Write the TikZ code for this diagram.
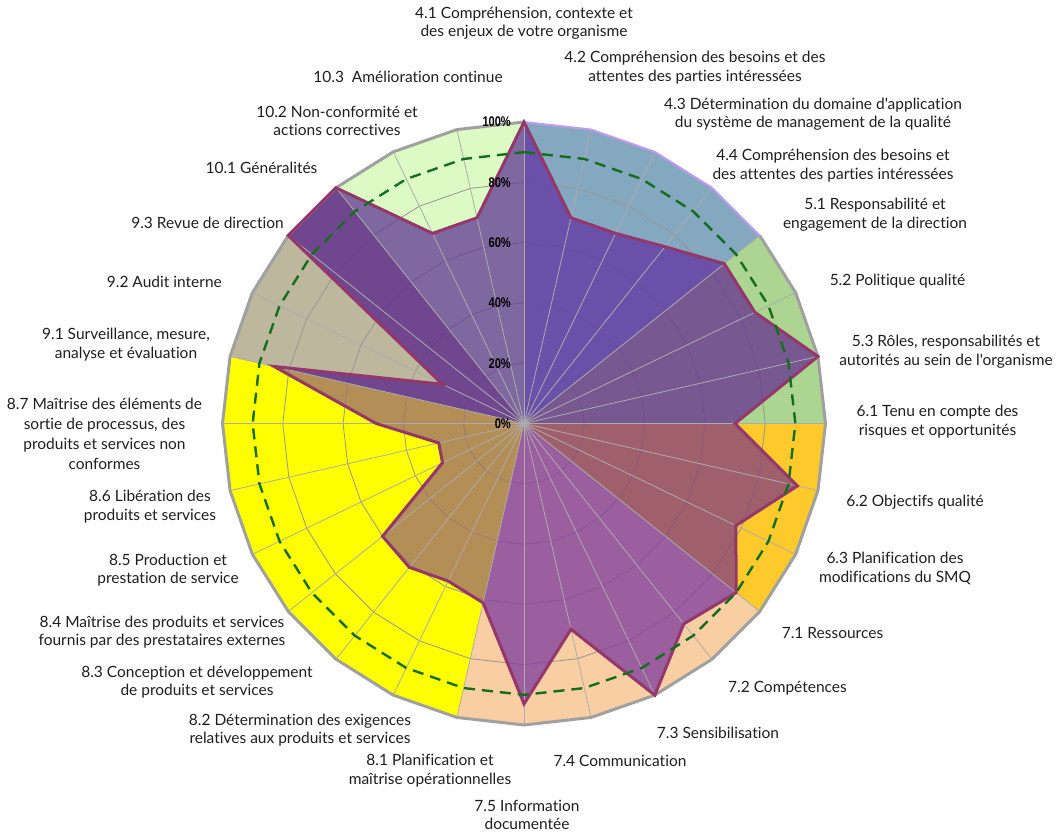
\documentclass[tikz,border=0pt]{standalone}
\usepackage{fontspec}
\setmainfont{Lato}[Ligatures={TeXOff,NoCommon}]
\newfontfamily\pctfont[FakeStretch=0.79]{Liberation Sans}
\definecolor{txt}{RGB}{30,30,30}
\definecolor{bgblue}{RGB}{132,168,192}
\definecolor{bggreen}{RGB}{171,213,144}
\definecolor{bggold}{RGB}{254,201,42}
\definecolor{bgpeach}{RGB}{249,206,162}
\definecolor{bgyellow}{RGB}{255,255,0}
\definecolor{bgtan}{RGB}{188,183,157}
\definecolor{bglgreen}{RGB}{220,251,196}
\definecolor{dfour}{RGB}{100,58,162}
\definecolor{dfive}{RGB}{108,57,145}
\definecolor{dsix}{RGB}{136,70,125}
\definecolor{dseven}{RGB}{132,67,158}
\definecolor{deight}{RGB}{161,114,108}
\definecolor{dnine}{RGB}{94,44,139}
\definecolor{dten}{RGB}{104,66,151}
\definecolor{ringgray}{RGB}{150,150,150}
\definecolor{spokegray}{RGB}{172,172,172}
\definecolor{outergray}{RGB}{160,160,160}
\definecolor{lilac}{RGB}{194,155,240}
\definecolor{maroon}{RGB}{148,56,108}
\definecolor{tgreen}{RGB}{20,110,30}
\begin{document}
\begin{tikzpicture}[x=1pt,y=-1pt,
  lbl/.style={font=\fontsize{15.5}{18.5}\selectfont, text=txt, inner sep=0pt, align=center},
  pct/.style={font=\pctfont\bfseries\fontsize{14}{15}\selectfont, text=black, inner sep=0pt, anchor=east},
  ring/.style={draw=ringgray, line width=0.8pt},
  spoke/.style={draw=spokegray, line width=0.8pt},
  outer/.style={draw=outergray, line width=3pt, line join=round},
  lilacline/.style={draw=lilac, line width=2pt, line join=round},
  dataline/.style={draw=maroon, line width=3pt, line join=miter, miter limit=6},
  target/.style={draw=tgreen, line width=2.4pt, dash pattern=on 11pt off 7pt},
  dfill/.style={fill opacity=0.8}]
\useasboundingbox (0,0) rectangle (1056,833);
\begin{scope}[shift={(524,423.5)}]
\foreach \v [count=\i from 0] in {100,70,70,75,85,85,100,70,93,78,90,85,100,70,93,61,58,61,60,30,29,49,85,30,100,100,70,70} {
  \coordinate (d\i) at ({\i*360/28-90}:{\v*3.015});
  \coordinate (o\i) at ({\i*360/28-90}:301.5);
}
% background wedges
\fill[bgblue] (0,0) -- (o0) -- (o1) -- (o2) -- (o3) -- (o4) -- cycle;
\fill[bggreen] (0,0) -- (o4) -- (o5) -- (o6) -- (o7) -- cycle;
\fill[bggold] (0,0) -- (o7) -- (o8) -- (o9) -- (o10) -- cycle;
\fill[bgpeach] (0,0) -- (o10) -- (o11) -- (o12) -- (o13) -- (o14) -- (o15) -- cycle;
\fill[bgyellow] (0,0) -- (o15) -- (o16) -- (o17) -- (o18) -- (o19) -- (o20) -- (o21) -- (o22) -- cycle;
\fill[bgtan] (0,0) -- (o22) -- (o23) -- (o24) -- (o25) -- cycle;
\fill[bglgreen] (0,0) -- (o25) -- (o26) -- (o27) -- (o0) -- cycle;
% rings
\foreach \p in {60.3,120.6,180.9,241.2}
  \draw[ring] (-90:\p) \foreach \k in {1,...,27} { -- ({\k*360/28-90}:\p) } -- cycle;
% data areas
\fill[dfour,dfill] (0,0) -- (d0) -- (d1) -- (d2) -- (d3) -- (d4) -- cycle;
\fill[dfive,dfill] (0,0) -- (d4) -- (d5) -- (d6) -- (d7) -- cycle;
\fill[dsix,dfill] (0,0) -- (d7) -- (d8) -- (d9) -- (d10) -- cycle;
\fill[dseven,dfill] (0,0) -- (d10) -- (d11) -- (d12) -- (d13) -- (d14) -- (d15) -- cycle;
\fill[deight,dfill] (0,0) -- (d15) -- (d16) -- (d17) -- (d18) -- (d19) -- (d20) -- (d21) -- (d22) -- cycle;
\fill[dnine,dfill] (0,0) -- (d22) -- (d23) -- (d24) -- (d25) -- cycle;
\fill[dten,dfill] (0,0) -- (d25) -- (d26) -- (d27) -- (d0) -- cycle;
% spokes
\foreach \k in {0,...,27} \draw[spoke] (0,0) -- (o\k);
% outer boundary
\draw[outer] (o4) -- (o5) -- (o6) -- (o7) -- (o8) -- (o9) -- (o10) -- (o11) -- (o12) -- (o13) -- (o14) -- (o15) -- (o16) -- (o17) -- (o18) -- (o19) -- (o20) -- (o21) -- (o22) -- (o23) -- (o24) -- (o25) -- (o26) -- (o27) -- (o0);
\draw[lilacline] (o0) -- (o1) -- (o2) -- (o3) -- (o4);
% data line
\draw[dataline] (d0) -- (d1) -- (d2) -- (d3) -- (d4) -- (d5) -- (d6) -- (d7) -- (d8) -- (d9) -- (d10) -- (d11) -- (d12) -- (d13) -- (d14) -- (d15) -- (d16) -- (d17) -- (d18) -- (d19) -- (d20) -- (d21) -- (d22) -- (d23) -- (d24) -- (d25) -- (d26) -- (d27) -- cycle;
% target 90%
\draw[target] (-90:271.35) \foreach \k in {1,...,27} { -- ({\k*360/28-90}:271.35) } -- cycle;
\end{scope}
% percent labels
\node[pct] (p0) at (511,423.5) {0\%};
\node[pct] (p20) at (511,363.2) {20\%};
\node[pct] (p40) at (511,302.9) {40\%};
\node[pct] (p60) at (511,242.6) {60\%};
\node[pct] (p80) at (511,182.3) {80\%};
\node[pct] (p100) at (511,122) {100\%};
% category labels
\node[lbl] (l41) at (524,23.2) {4.1 Compréhension, contexte et\\des enjeux de votre organisme};
\node[lbl] (l42) at (695,67.5) {4.2 Compréhension des besoins et des\\attentes des parties intéressées};
\node[lbl] (l43) at (813,114) {4.3 Détermination du domaine d'application\\du système de management de la qualité};
\node[lbl] (l44) at (833,165.5) {4.4 Compréhension des besoins et\\des attentes des parties intéressées};
\node[lbl] (l51) at (875,214.5) {5.1 Responsabilité et\\engagement de la direction};
\node[lbl] (l52) at (897.5,281) {5.2 Politique qualité};
\node[lbl] (l53) at (946,351.5) {5.3 Rôles, responsabilités et\\autorités au sein de l'organisme};
\node[lbl] (l61) at (937.5,421.7) {6.1 Tenu en compte des\\risques et opportunités};
\node[lbl] (l62) at (915,501.7) {6.2 Objectifs qualité};
\node[lbl] (l63) at (895,568.5) {6.3 Planification des\\modifications du SMQ};
\node[lbl] (l71) at (832.5,633) {7.1 Ressources};
\node[lbl] (l72) at (787.5,688.5) {7.2 Compétences};
\node[lbl] (l73) at (718,732.7) {7.3 Sensibilisation};
\node[lbl] (l74) at (620,761) {7.4 Communication};
\node[lbl] (l75) at (527,815) {7.5 Information\\documentée};
\node[lbl] (l81) at (430,770.5) {8.1 Planification et\\maîtrise opérationnelles};
\node[lbl] (l82) at (300,730) {8.2 Détermination des exigences\\relatives aux produits et services};
\node[lbl] (l83) at (197,682) {8.3 Conception et développement\\de produits et services};
\node[lbl] (l84) at (162,632.3) {8.4 Maîtrise des produits et services\\fournis par des prestataires externes};
\node[lbl] (l85) at (168,570) {8.5 Production et\\prestation de service};
\node[lbl] (l86) at (150,506.5) {8.6 Libération des\\produits et services};
\node[lbl, font=\fontsize{15.5}{20}\selectfont] (l87) at (104.5,433.7) {8.7 Maîtrise des éléments de\\sortie de processus, des\\produits et services non\\conformes};
\node[lbl] (l91) at (126,344.5) {9.1 Surveillance, mesure,\\analyse et évaluation};
\node[lbl, anchor=east] (l92) at (222,281.7) {9.2 Audit interne};
\node[lbl, anchor=east] (l93) at (284,222.7) {9.3 Revue de direction};
\node[lbl] (l101) at (261.5,167.7) {10.1 Généralités};
\node[lbl] (l102) at (337,121) {10.2 Non-conformité et\\actions correctives};
\node[lbl] (l103) at (408,76.7) {10.3\ \ Amélioration continue};
\end{tikzpicture}
\end{document}
